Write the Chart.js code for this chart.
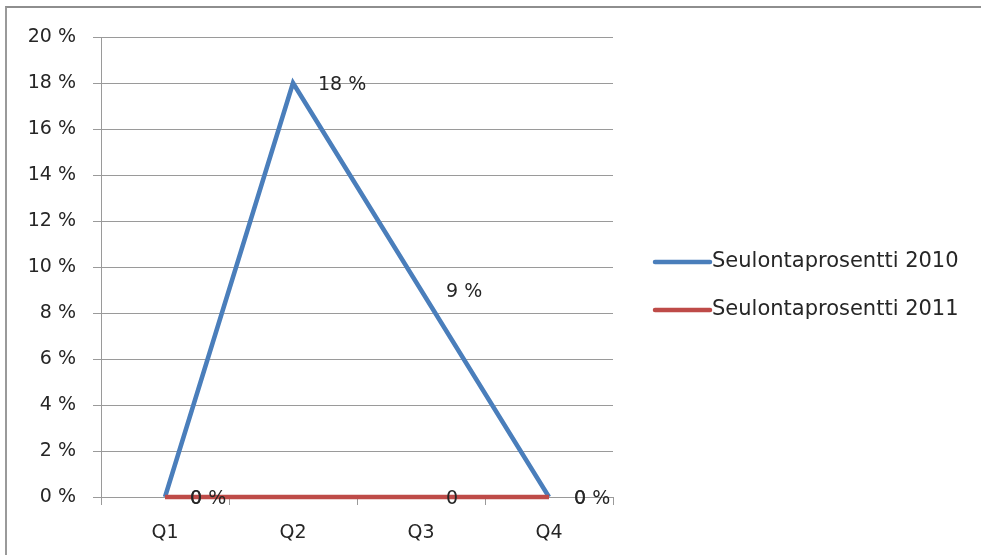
<!DOCTYPE html>
<html>
<head>
<meta charset="utf-8">
<script src="https://cdn.jsdelivr.net/npm/chart.js@4/dist/chart.umd.min.js"></script>
<style>
  html, body { margin: 0; padding: 0; background: #fff; }
  #wrap { position: relative; width: 981px; height: 555px; overflow: hidden; }
  #frame { position: absolute; left: 5px; top: 6px; width: 1000px; height: 600px;
           border-top: 2px solid #8e8e8e; border-left: 2px solid #9a9a9a; }
  canvas { position: absolute; left: 0; top: 0; }
</style>
</head>
<body>
<div id="wrap">
  <div id="frame"></div>
  <canvas id="c" width="981" height="555"></canvas>
</div>
<script>
const categories = ["Q1", "Q2", "Q3", "Q4"];
const series2010 = [0, 18, 9, 0];
const series2011 = [0, 0, 0, 0];
const labels2010 = ["0 %", "18 %", "9 %", "0 %"];
const labels2011 = ["0", "", "0", "0"];
const seriesNames = ["Seulontaprosentti 2010", "Seulontaprosentti 2011"];
const yTickMax = 20;
const yTickStep = 2;

const FONT = "'DejaVu Sans', sans-serif";
const TEXT = "#262626";
const BLUE = "#4A7EBB";
const RED = "#BE4B48";
const GRID = "#9a9a9a";

const dataLabelPlugin = {
  id: 'dataLabels',
  afterDatasetsDraw(chart) {
    const ctx = chart.ctx;
    ctx.save();
    ctx.font = "19px " + FONT;
    ctx.fillStyle = TEXT;
    ctx.textAlign = 'left';
    ctx.textBaseline = 'middle';
    chart.data.datasets.forEach((ds, di) => {
      const meta = chart.getDatasetMeta(di);
      meta.data.forEach((pt, i) => {
        const t = ds.pointLabels[i];
        if (!t) return;
        ctx.fillText(t, pt.x + 25, pt.y + 2);
      });
    });
    ctx.restore();
  }
};

const legendPlugin = {
  id: 'sideLegend',
  afterDraw(chart) {
    const ctx = chart.ctx;
    ctx.save();
    ctx.font = "21px " + FONT;
    ctx.textAlign = 'left';
    ctx.textBaseline = 'middle';
    const x0 = 655, x1 = 710;
    const ys = [262, 310];
    chart.data.datasets.forEach((ds, di) => {
      const y = ys[di];
      ctx.strokeStyle = ds.borderColor;
      ctx.lineWidth = 4.5;
      ctx.lineCap = 'round';
      ctx.beginPath();
      ctx.moveTo(x0, y);
      ctx.lineTo(x1, y);
      ctx.stroke();
      ctx.fillStyle = TEXT;
      ctx.fillText(ds.label, x1 + 2, y);
    });
    ctx.restore();
  }
};

new Chart(document.getElementById('c'), {
  type: 'line',
  data: {
    labels: categories,
    datasets: [
      { label: seriesNames[0], data: series2010, pointLabels: labels2010,
        borderColor: BLUE, backgroundColor: BLUE, borderWidth: 4.5,
        pointRadius: 0, tension: 0, order: 1, borderJoinStyle: 'miter', clip: 8 },
      { label: seriesNames[1], data: series2011, pointLabels: labels2011,
        borderColor: RED, backgroundColor: RED, borderWidth: 4.5,
        pointRadius: 0, tension: 0, order: 0, clip: 8 }
    ]
  },
  options: {
    responsive: false,
    animation: false,
    devicePixelRatio: 1,
    layout: { padding: { top: 37, right: 368, bottom: 0, left: 0 } },
    plugins: { legend: { display: false }, tooltip: { enabled: false } },
    scales: {
      x: {
        offset: true,
        grid: { offset: true, drawOnChartArea: false, drawTicks: true, tickLength: 8, color: GRID },
        border: { display: true, color: GRID },
        ticks: { color: TEXT, font: { family: FONT, size: 19 }, padding: 17, maxRotation: 0 },
        afterFit(scale) { scale.height = 58; }
      },
      y: {
        min: 0, max: yTickMax,
        grid: { color: GRID, tickLength: 8, drawTicks: true },
        border: { display: true, color: GRID },
        ticks: { stepSize: yTickStep, color: TEXT, font: { family: FONT, size: 19 }, padding: 17,
                 callback: v => v + " %" },
        afterFit(scale) { scale.width = 101; }
      }
    }
  },
  plugins: [dataLabelPlugin, legendPlugin]
});
</script>
</body>
</html>
